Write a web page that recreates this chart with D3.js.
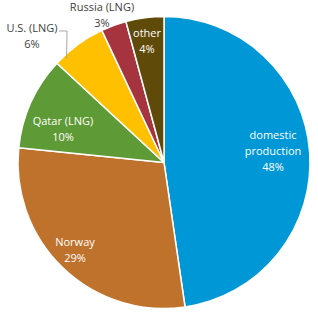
<!DOCTYPE html>
<html><head><meta charset="utf-8">
<script src="https://cdn.jsdelivr.net/npm/d3@7"></script>
<style>body{margin:0;background:#fff}svg{display:block}</style>
</head><body>
<svg id="c" width="318" height="314"></svg>
<script>
const categories = ["domestic production", "Norway", "Qatar (LNG)", "U.S. (LNG)", "Russia (LNG)", "other"];
const values = [47.7, 28.9, 10.3, 6.1, 2.8, 4.2];
const labelLines = [["domestic", "production"], ["Norway"], ["Qatar (LNG)"], ["U.S. (LNG)"], ["Russia (LNG)"], ["other"]];
const pctLabels = ["48%", "29%", "10%", "6%", "3%", "4%"];
const colors = ["#0097D6", "#BE722C", "#5E9A35", "#FFC000", "#A5343F", "#5F4A09"];

// layout (label anchor centers, first line)
const labelLayout = [
  {x: 273, y: 135, fill: "#fff"},
  {x: 75, y: 242, fill: "#fff"},
  {x: 63, y: 121, fill: "#fff"},
  {x: 32, y: 28, fill: "#404040"},
  {x: 102, y: 7, fill: "#404040"},
  {x: 147, y: 33, fill: "#fff"}
];
const cx = 164, cy = 162.5, R = 146, lh = 16;

const svg = d3.select("#c");
const pie = d3.pie().sort(null).value(d => d)(values);
const arc = d3.arc().innerRadius(0).outerRadius(R);
const g = svg.append("g").attr("transform", `translate(${cx},${cy})`);
g.selectAll("path").data(pie).join("path")
  .attr("d", arc)
  .attr("fill", (d, i) => colors[i])
  .attr("stroke", "#fff").attr("stroke-width", 1.5).attr("stroke-linejoin", "round");

// leader line for U.S. (LNG)
const us = pie[3];
const usEdge = d3.arc().innerRadius(R - 4).outerRadius(R - 4).centroid({startAngle: us.startAngle, endAngle: us.startAngle + (us.endAngle - us.startAngle) * 0.35});
svg.append("polyline")
  .attr("points", [[59, 31], [67, 31], [cx + usEdge[0], cy + usEdge[1]]].map(p => p.join(",")).join(" "))
  .attr("fill", "none").attr("stroke", "#A6A6A6").attr("stroke-width", 1);

labelLayout.forEach((p, i) => {
  const lines = labelLines[i].concat([pctLabels[i]]);
  const t = svg.append("text")
    .attr("font-family", "'Open Sans', sans-serif").attr("font-size", 11)
    .attr("fill", p.fill).attr("text-anchor", "middle");
  lines.forEach((s, k) => {
    t.append("tspan").attr("x", p.x).attr("y", p.y + k * lh).attr("dy", "0.35em").text(s);
  });
});
</script>
</body></html>
